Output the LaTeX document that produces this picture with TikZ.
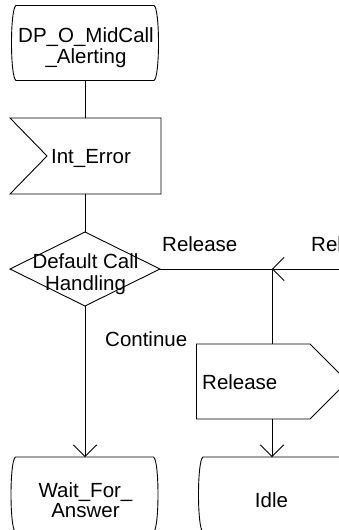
\documentclass[tikz,border=0pt]{standalone}
\usepackage{fontspec}
\setmainfont{Liberation Sans}
\usetikzlibrary{arrows.meta,calc}
\newcommand\sdlstateoutline[1]{%
  \draw[ln] ($(#1.north west)+(6,0)$) -- ($(#1.north east)+(-6,0)$)
    .. controls ($(#1.north east)+(0,3)$) and ($(#1.south east)+(0,-3)$) .. ($(#1.south east)+(-6,0)$)
    -- ($(#1.south west)+(6,0)$)
    .. controls ($(#1.south west)+(0,-3)$) and ($(#1.north west)+(0,3)$) .. cycle;}
\begin{document}
\begin{tikzpicture}[x=1pt,y=-1pt,
  ln/.style={line width=0.9pt},
  arr/.style={ln,-{Straight Barb[length=11.5pt,width=23.5pt]}},
  txt/.style={font=\fontsize{20.5}{22}\selectfont, inner sep=0pt, anchor=base},
  sym/.style={inner sep=0pt, outer sep=0pt, minimum width=150pt, minimum height=75pt}
]
\useasboundingbox (0,0) rectangle (339,530);
\clip (0,0) rectangle (339,530);

% symbol frames
\node[sym] (s1) at (85,43) {};
\node[sym, minimum width=151pt, minimum height=76pt] (in) at (85.5,156) {};
\node[sym, minimum height=74pt] (dc) at (85,269) {};
\node[sym, minimum width=151pt] (o1) at (272,381.5) {};
\node[sym] (w1) at (84.5,494.5) {};
\node[sym] (id) at (272,494.5) {};

% outlines
\sdlstateoutline{s1}
\draw[ln] (in.north west) -- (in.north east) -- (in.south east) -- (in.south west) -- ($(in.west)+(37,0)$) -- cycle;
\draw[ln] (dc.north) -- (dc.east) -- (dc.south) -- (dc.west) -- cycle;
\draw[ln] (o1.north west) -- ($(o1.north east)+(-37.5,0)$) -- (o1.east) -- ($(o1.south east)+(-37.5,0)$) -- (o1.south west) -- cycle;
\sdlstateoutline{w1}
\sdlstateoutline{id}

% texts
\node[txt] (t1) at (86,42) {DP\_O\_MidCall};
\node[txt] (t2) at (86,63.5) {\_Alerting};
\node[txt] (t3) at (91,163.5) {Int\_Error};
\node[txt] (t4) at (85.5,268) {Default Call};
\node[txt] (t5) at (85.5,290) {Handling};
\node[txt, anchor=base west] (t6) at (162,251) {Release};
\node[txt, anchor=base west] (t7) at (311,251) {Release};
\node[txt, anchor=base west] (t8) at (105,346) {Continue};
\node[txt, anchor=base west] (t9) at (202,389) {Release};
\node[txt] (t10) at (85.5,497) {Wait\_For\_};
\node[txt] (t11) at (85.5,517) {Answer};
\node[txt] (t12) at (271.5,507) {Idle};

% connectors
\coordinate (j) at (o1.north |- dc.east);
\coordinate (re) at ($(j)+(90,0)$);
\draw[ln] (s1.south) -- (s1.south |- in.north);
\draw[ln] (in.south -| dc.north) -- (dc.north);
\draw[arr] (dc.south) -- (dc.south |- w1.north);
\draw[ln] (dc.east) -- (j) -- (o1.north);
\draw[arr] (re) -- (j);
\draw[arr] (o1.south) -- (id.north);
\end{tikzpicture}
\end{document}
